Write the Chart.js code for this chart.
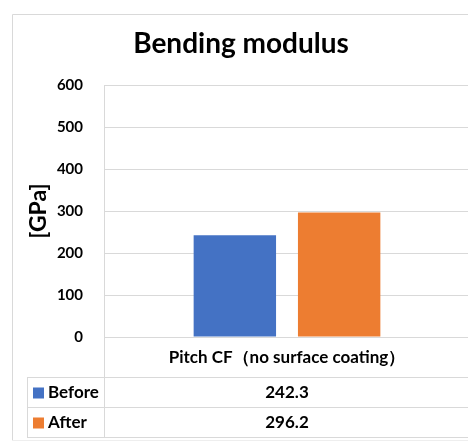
<!DOCTYPE html>
<html><head><meta charset="utf-8">
<script src="https://cdn.jsdelivr.net/npm/chart.js@4/dist/chart.umd.min.js"></script>
<style>
html,body{margin:0;padding:0;background:#fff;overflow:hidden;}
#wrap{width:470px;height:443px;position:relative;}
</style></head><body>
<div id="wrap"><canvas id="c"></canvas></div>
<script>
const categories = ['Pitch CF（no surface coating）'];
const seriesNames = ['Before', 'After'];
const beforeValues = [242.3];
const afterValues = [296.2];
const yTicks = [0, 100, 200, 300, 400, 500, 600];
const colors = ['#4472C4', '#ED7D31'];
const FONT = 'Lato, "Noto Sans", sans-serif';
const GRID = '#d9d9d9';

const tablePlugin = {
  id: 'dataTable',
  afterDraw(chart) {
    const ctx = chart.ctx;
    const ca = chart.chartArea;
    const xs = chart.scales.x;
    const W = chart.width;
    const rowTop = 377, rowH = 30, tableLeft = 27;
    ctx.save();
    ctx.strokeStyle = GRID;
    ctx.lineWidth = 1;
    ctx.beginPath();
    // outer frame
    ctx.moveTo(12.5, 14.5); ctx.lineTo(W, 14.5);
    ctx.moveTo(12.5, 14.5); ctx.lineTo(12.5, 441);
    // vertical separator continuing axis
    ctx.moveTo(Math.round(ca.left) + 0.5, ca.bottom); ctx.lineTo(Math.round(ca.left) + 0.5, rowTop + rowH * 2);
    // table
    for (let i = 0; i <= 2; i++) {
      const y = rowTop + rowH * i + 0.5;
      ctx.moveTo(tableLeft, y); ctx.lineTo(W, y);
    }
    ctx.moveTo(tableLeft + 0.5, rowTop); ctx.lineTo(tableLeft + 0.5, rowTop + rowH * 2);
    ctx.stroke();
    ctx.strokeStyle = '#eeeeee';
    ctx.beginPath();
    ctx.moveTo(12, 440.5); ctx.lineTo(W, 440.5);
    ctx.stroke();

    ctx.fillStyle = '#000';
    ctx.textBaseline = 'middle';
    ctx.font = 'bold 17px ' + FONT;
    const datasets = chart.data.datasets;
    categories.forEach((cat, i) => {
      const cx = xs.getPixelForValue(i);
      ctx.textAlign = 'center';
      ctx.fillText(cat, cx, 358);
      datasets.forEach((ds, j) => {
        ctx.fillText(ds.data[i].toFixed(1), cx, rowTop + rowH * j + rowH / 2 + 1);
      });
    });
    datasets.forEach((ds, j) => {
      const yc = rowTop + rowH * j + rowH / 2 + 1;
      ctx.fillStyle = ds.backgroundColor;
      ctx.fillRect(33, yc - 5.5, 11, 11);
      ctx.fillStyle = '#000';
      ctx.textAlign = 'left';
      ctx.fillText(ds.label, 48, yc);
    });
    ctx.restore();
  }
};

new Chart(document.getElementById('c'), {
  type: 'bar',
  data: {
    labels: categories,
    datasets: [
      { label: seriesNames[0], data: beforeValues, backgroundColor: colors[0] },
      { label: seriesNames[1], data: afterValues, backgroundColor: colors[1] }
    ]
  },
  options: {
    responsive: true,
    maintainAspectRatio: false,
    animation: false,
    devicePixelRatio: 1,
    layout: { padding: { left: 12, right: 0, top: 0, bottom: 106 } },
    datasets: { bar: { categoryPercentage: 0.57, barPercentage: 0.79 } },
    plugins: {
      legend: { display: false },
      tooltip: { enabled: false },
      title: {
        display: true,
        text: 'Bending modulus',
        color: '#000',
        font: { family: FONT, size: 28, weight: 'bold', lineHeight: 1.2 },
        padding: { top: 26.7, bottom: 24.7 }
      }
    },
    scales: {
      x: {
        ticks: { display: false },
        grid: { display: false, drawTicks: false },
        border: { display: true, color: GRID },
        afterFit(s) { s.height = 0; }
      },
      y: {
        min: 0, max: 600,
        afterBuildTicks(s) { s.ticks = yTicks.map(v => ({ value: v })); },
        ticks: { color: '#000', padding: 21, font: { family: FONT, size: 15, weight: 'bold' } },
        grid: { color: GRID, drawTicks: false },
        border: { display: true, color: GRID },
        title: {
          display: true, text: '[GPa]', color: '#000',
          font: { family: FONT, size: 23, weight: 'bold' },
          padding: { top: 13, bottom: 0 }
        },
        afterFit(s) { s.width = 104 - 12; }
      }
    }
  },
  plugins: [tablePlugin]
});
</script>
</body></html>
